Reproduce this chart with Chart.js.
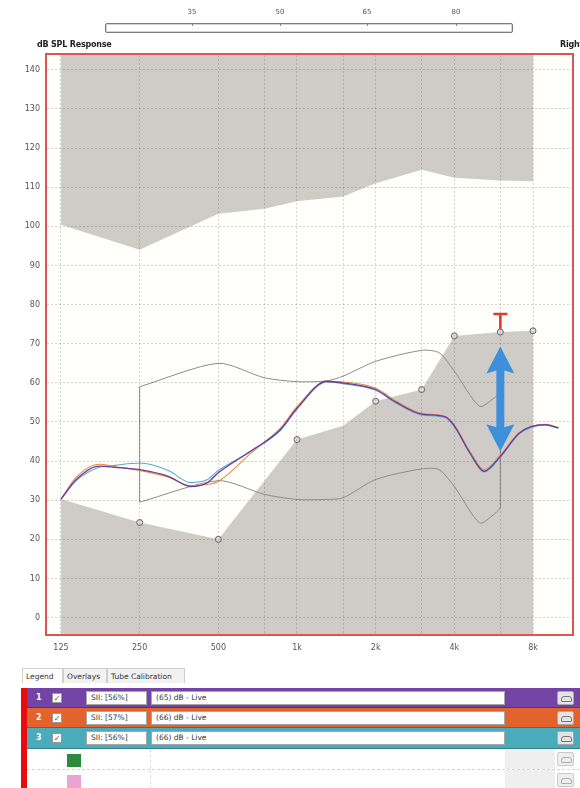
<!DOCTYPE html>
<html>
<head>
<meta charset="utf-8">
<script src="https://cdn.jsdelivr.net/npm/chart.js@4/dist/chart.umd.min.js"></script>
<style>
  html, body { margin: 0; padding: 0; background: #fff; }
  body { width: 580px; height: 788px; overflow: hidden; position: relative; font-family: "DejaVu Sans", "Liberation Sans", sans-serif; }
  #chartBox { position: absolute; left: 0; top: 0; width: 580px; height: 660px; }
  .abs { position: absolute; }
  .lvl { font-size: 7px; color: #555; transform: translateX(-50%); }
  #slider { left: 105px; top: 23px; width: 406px; height: 8px; border: 1px solid #7a7a7a; border-radius: 2px; box-shadow: inset 0 0 0 1px #d4d4d4; background: #fff; }
  .notch { width: 1px; height: 3px; background: #888; top: 23px; }
  .title { font-size: 8px; font-weight: bold; color: #222; white-space: nowrap; letter-spacing: -0.2px; }
  .tab { top: 668px; height: 15px; font-size: 7.5px; line-height: 15px; color: #333; border: 1px solid #cfcfcf; border-bottom: none; box-sizing: border-box; padding-left: 3px; white-space: nowrap; background: #f2f2f2; }
  .tab.on { background: #fff; }
  .row { left: 27px; width: 553px; box-sizing: border-box; }
  .num { left: 9px; font-size: 8px; font-weight: bold; color: #fff; }
  .chk { left: 25px; width: 10px; height: 10px; background: #fff; border: 1px solid #999; box-sizing: border-box; font-size: 8px; line-height: 9px; text-align: center; color: #555; }
  .box { background: #fff; box-sizing: border-box; font-size: 7.5px; color: #333; padding-left: 4px; white-space: nowrap; }
  .icon { left: 530px; width: 17px; height: 14px; background: #e4e4e4; border: 1px solid #a8a8a8; box-sizing: border-box; border-radius: 2px; }
  .icon::after { content: ""; position: absolute; left: 3px; top: 4px; width: 9px; height: 4px; border: 1px solid #777; border-radius: 3px 3px 1px 1px; }
</style>
</head>
<body>
<div id="chartBox"><canvas id="c" width="580" height="660"></canvas></div>
<div id="overlay"></div>
<script>
// ---- input level slider ----
const inputLevels = ['35', '50', '65', '80'];

// ---- frequency axis ----
const freqGrid = [125, 250, 500, 750, 1000, 1500, 2000, 3000, 4000, 6000, 8000];
const freqTickText = { 125: '125', 250: '250', 500: '500', 1000: '1k', 2000: '2k', 4000: '4k', 8000: '8k' };
const levelTicks = [0, 10, 20, 30, 40, 50, 60, 70, 80, 90, 100, 110, 120, 130, 140];

// ---- discomfort (upper) shaded limit ----
const uclFreq = [125, 250, 500, 750, 1000, 1500, 2000, 3000, 4000, 6000, 8000];
const uclDb   = [100.4, 94, 103.2, 104.5, 106.4, 107.6, 111, 114.5, 112.4, 111.7, 111.5];

// ---- threshold (lower) shaded limit and its measured points ----
const threshFreq = [125, 250, 500, 1000, 1500, 2000, 3000, 4000, 6000, 8000];
const threshDb   = [30.3, 24.3, 20, 45.5, 49, 55.3, 58.3, 72, 73, 73.3];
const measuredFreq = [250, 500, 1000, 2000, 3000, 4000, 6000, 8000];

// ---- speech range envelope ----
const bandFreq  = [250, 500, 750, 1000, 1300, 1500, 2000, 3000, 3500, 4000, 5000, 5700, 6000];
const bandUpper = [59, 65, 61.3, 60.3, 60.5, 61.7, 65.5, 68.3, 67.7, 63, 54, 56.2, 57.5];
const bandLower = [29.5, 35, 31.5, 30.2, 30.2, 30.6, 35.3, 38, 37.8, 33.5, 24.2, 26.5, 28];

// ---- measured responses ----
const respFreq = [125, 143, 175, 201, 250, 322, 392, 452, 500, 663, 863, 1000, 1300, 1500, 2000, 2400, 3000, 3700, 4000, 4600, 5200, 6000, 7100, 8900, 10000];
const resp1 = [30.3, 35.3, 38.7, 38.4, 37.8, 36.1, 33.5, 34.4, 37, 42.5, 48, 53.5, 60.4, 60, 58.3, 55, 52, 51.3, 49, 42, 37.4, 41.2, 47.2, 49.3, 48.5];
const resp2 = [30.3, 35.9, 39.2, 38.6, 37.6, 35.9, 33.7, 34, 34.8, 41.9, 48.4, 53.9, 60.3, 60.2, 58.6, 55.3, 52.2, 51.4, 49.2, 42.3, 37.8, 41.5, 47.3, 49.4, 48.6];
const resp3 = [30.3, 35, 38.4, 38.9, 39.5, 37.6, 34.5, 35.2, 37.6, 42.4, 47.8, 53.3, 60.2, 59.8, 58.1, 54.8, 51.8, 51.1, 48.8, 41.8, 37.2, 41, 47, 49.2, 48.4];

// ---- target marker and adjustment range ----
const targetFreq = 6000;
const targetDb = [73, 77.6];
const adjustFreq = 6000;
const adjustDb = [42.5, 69.3];

// ---- legend panel rows ----
const curveIds   = ['1', '2', '3'];
const curveSii   = ['SII: [56%]', 'SII: [57%]', 'SII: [56%]'];
const curveNames = ['(65) dB - Live', '(66) dB - Live', '(66) dB - Live'];
const curveColors = ['#7443a6', '#e2632b', '#4aabbb'];
const lineColors  = ['#6b3d9c', '#ee8a40', '#5aa6dc'];

const shade = '#cfccc7';
const pts = (xs, ys) => xs.map((x, i) => ({ x, y: ys[i] }));
const measuredPts = pts(threshFreq, threshDb).filter(p => measuredFreq.includes(p.x));

const plotFrame = {
  id: 'plotFrame',
  beforeDraw(chart) {
    const a = chart.chartArea, ctx = chart.ctx;
    ctx.save();
    ctx.fillStyle = '#fffffb';
    ctx.fillRect(a.left, a.top, a.right - a.left, a.bottom - a.top);
    ctx.restore();
  },
  afterDraw(chart) {
    const a = chart.chartArea, ctx = chart.ctx;
    const xs = chart.scales.x, ys = chart.scales.y;
    ctx.save();
    // adjustment double arrow
    const ax = xs.getPixelForValue(adjustFreq);
    const yTop = ys.getPixelForValue(adjustDb[1]);
    const yBot = ys.getPixelForValue(adjustDb[0]);
    const hh = 27, hw = 14, sw = 4;
    ctx.fillStyle = '#3f8fdc';
    ctx.beginPath();
    ctx.moveTo(ax, yTop);
    ctx.lineTo(ax + hw, yTop + hh);
    ctx.lineTo(ax + sw, yTop + hh - 3);
    ctx.lineTo(ax + sw, yBot - hh + 3);
    ctx.lineTo(ax + hw, yBot - hh);
    ctx.lineTo(ax, yBot);
    ctx.lineTo(ax - hw, yBot - hh);
    ctx.lineTo(ax - sw, yBot - hh + 3);
    ctx.lineTo(ax - sw, yTop + hh - 3);
    ctx.lineTo(ax - hw, yTop + hh);
    ctx.closePath();
    ctx.fill();
    // target "T"
    const tx = xs.getPixelForValue(targetFreq);
    const t0 = ys.getPixelForValue(targetDb[0]);
    const t1 = ys.getPixelForValue(targetDb[1]);
    ctx.strokeStyle = '#e2392c';
    ctx.lineWidth = 2.6;
    ctx.beginPath();
    ctx.moveTo(tx, t0 - 3);
    ctx.lineTo(tx, t1);
    ctx.moveTo(tx - 7, t1);
    ctx.lineTo(tx + 7, t1);
    ctx.stroke();
    // frame
    ctx.strokeStyle = '#e25252';
    ctx.lineWidth = 2;
    ctx.strokeRect(a.left - 1, a.top - 1, a.right - a.left + 2, a.bottom - a.top + 2);
    ctx.restore();
  }
};

const gridStyle = { color: 'rgba(40,40,40,0.2)', lineWidth: 1, drawTicks: false, z: 1 };

new Chart(document.getElementById('c'), {
  type: 'line',
  data: {
    datasets: [
      { data: measuredPts, showLine: false, pointRadius: 3, pointBackgroundColor: '#dcdcdc', pointBorderColor: '#666', pointBorderWidth: 1 },
      { data: pts(respFreq, resp1), borderColor: lineColors[0], borderWidth: 1.3, pointRadius: 0, cubicInterpolationMode: 'monotone' },
      { data: pts(respFreq, resp2), borderColor: lineColors[1], borderWidth: 1.1, pointRadius: 0, cubicInterpolationMode: 'monotone' },
      { data: pts(respFreq, resp3), borderColor: lineColors[2], borderWidth: 1.1, pointRadius: 0, cubicInterpolationMode: 'monotone' },
      { data: pts(bandFreq, bandUpper), borderColor: '#8c8c8c', borderWidth: 1, pointRadius: 0, tension: 0.25 },
      { data: pts(bandFreq, bandLower), borderColor: '#8c8c8c', borderWidth: 1, pointRadius: 0, tension: 0.25 },
      { data: [{ x: bandFreq[0], y: bandLower[0] }, { x: bandFreq[0], y: bandUpper[0] }], borderColor: '#8c8c8c', borderWidth: 1, pointRadius: 0 },
      { data: [{ x: bandFreq[bandFreq.length - 1], y: bandLower[bandLower.length - 1] }, { x: bandFreq[bandFreq.length - 1], y: bandUpper[bandUpper.length - 1] }], borderColor: '#8c8c8c', borderWidth: 1, pointRadius: 0 },
      { data: pts(threshFreq, threshDb), borderColor: 'rgba(0,0,0,0)', borderWidth: 0, pointRadius: 0, fill: 'start', backgroundColor: shade },
      { data: pts(uclFreq, uclDb), borderColor: 'rgba(0,0,0,0)', borderWidth: 0, pointRadius: 0, fill: 'end', backgroundColor: shade }
    ]
  },
  options: {
    responsive: false,
    animation: false,
    devicePixelRatio: 1,
    layout: { padding: { left: 0, top: 55, right: 8, bottom: 0 } },
    plugins: { legend: { display: false }, tooltip: { enabled: false } },
    scales: {
      x: {
        type: 'logarithmic',
        min: 110.5,
        max: 11280,
        afterBuildTicks: s => { s.ticks = freqGrid.map(v => ({ value: v })); },
        afterFit: s => { s.height = 26; },
        ticks: { autoSkip: false, maxRotation: 0, padding: 9, color: '#555', font: { size: 8, family: 'DejaVu Sans' }, callback: v => freqTickText[v] || '' },
        grid: Object.assign({ borderDash: [2, 2] }, gridStyle),
        border: { display: false, dash: [2, 2] }
      },
      y: {
        min: -4.2,
        max: 143.8,
        afterBuildTicks: s => { s.ticks = levelTicks.map(v => ({ value: v })); },
        afterFit: s => { s.width = 47; },
        ticks: { padding: 7, color: '#555', font: { size: 8, family: 'DejaVu Sans' } },
        grid: gridStyle,
        border: { display: false, dash: [2, 2] }
      }
    }
  },
  plugins: [plotFrame]
});

// ---- header and legend panel ----
const ov = document.getElementById('overlay');
function el(cls, css, text) {
  const d = document.createElement('div');
  d.className = 'abs ' + cls;
  Object.assign(d.style, css);
  if (text !== undefined) d.textContent = text;
  ov.appendChild(d);
  return d;
}
el('', { left: '105px', top: '23px' }).id = 'slider';
const levelX = [192, 280, 367, 456];
inputLevels.forEach((t, i) => {
  el('lvl', { left: levelX[i] + 'px', top: '8px' }, t);
  el('notch', { left: levelX[i] + 'px' });
});
el('title', { left: '37px', top: '40px' }, 'dB SPL Response');
el('title', { left: '560px', top: '40px' }, 'Right');

el('tab on', { left: '22px', width: '41px' }, 'Legend');
el('tab', { left: '63px', width: '44px' }, 'Overlays');
el('tab', { left: '107px', width: '78px' }, 'Tube Calibration');

const rowTop = [688, 708, 728, 749, 770];
const rowH = [20, 20, 21, 21, 20];
curveIds.forEach((id, i) => {
  const r = el('row', { top: rowTop[i] + 'px', height: rowH[i] + 'px', background: curveColors[i], borderBottom: '1px solid rgba(0,0,0,0.25)' });
  r.className = 'abs row';
  const mk = (cls, css, text) => { const d = document.createElement('div'); d.className = 'abs ' + cls; Object.assign(d.style, css); if (text !== undefined) d.textContent = text; r.appendChild(d); return d; };
  mk('num', { top: '5px' }, id);
  mk('chk', { top: '5px' }, '\u2713');
  mk('box', { left: '59px', top: '3px', width: '61px', height: '14px', lineHeight: '12px', border: '1px solid rgba(0,0,0,0.35)' }, curveSii[i]);
  mk('box', { left: '124px', top: '3px', width: '354px', height: '14px', lineHeight: '12px', border: '1px solid rgba(0,0,0,0.35)' }, curveNames[i]);
  mk('icon', { top: '3px' });
});
const swatches = ['#2b8a3c', '#eaa3d3'];
swatches.forEach((c, k) => {
  const i = 3 + k;
  const r = el('row', { top: rowTop[i] + 'px', height: rowH[i] + 'px', background: '#fff', borderBottom: '1px dashed #d6d6d6' });
  const mk = (cls, css) => { const d = document.createElement('div'); d.className = 'abs ' + cls; Object.assign(d.style, css); r.appendChild(d); return d; };
  mk('', { left: '40px', top: '5px', width: '14px', height: '13px', background: c });
  mk('', { left: '123px', top: '0px', width: '0px', height: '100%', borderLeft: '1px dashed #ddd' });
  mk('', { left: '478px', top: '0px', width: '50px', height: '100%', background: '#efefef' });
  mk('icon', { top: '3px', opacity: '0.6' });
});
el('', { left: '21px', top: '688px', width: '6px', height: '100px', background: '#e80c0c' });
</script>
</body>
</html>
